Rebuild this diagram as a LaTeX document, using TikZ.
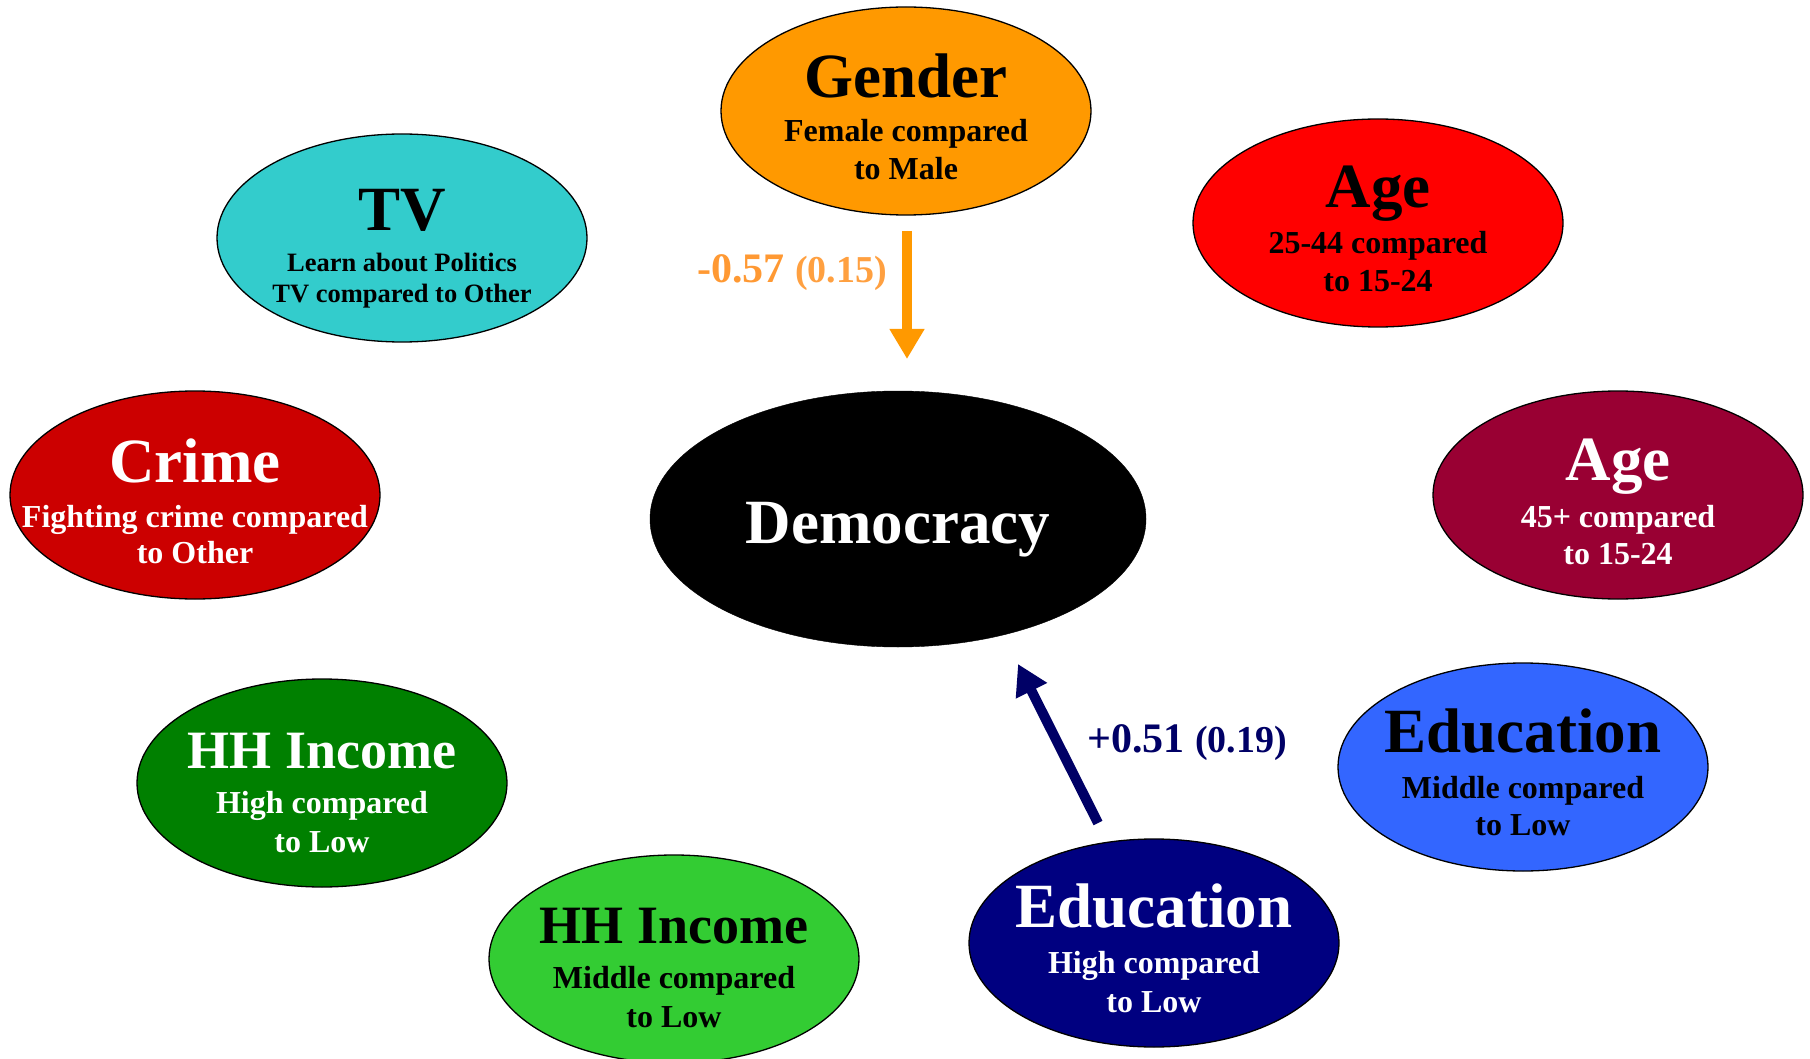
\documentclass[tikz,border=0pt]{standalone}
\usepackage{fontspec}
\setmainfont{Liberation Serif}
\usetikzlibrary{shapes.geometric,arrows.meta}
\definecolor{cGender}{HTML}{FF9900}
\definecolor{cTV}{HTML}{33CCCC}
\definecolor{cAgeA}{HTML}{FF0000}
\definecolor{cCrime}{HTML}{CC0000}
\definecolor{cAgeB}{HTML}{990033}
\definecolor{cEduM}{HTML}{3366FF}
\definecolor{cEduH}{HTML}{000080}
\definecolor{cHHH}{HTML}{008000}
\definecolor{cHHM}{HTML}{33CC33}
\definecolor{cLblO}{HTML}{FF9933}
\definecolor{cLblO2}{HTML}{FFA040}
\definecolor{cNavy}{HTML}{000066}
\tikzset{
  blob/.style={ellipse, draw=black, line width=1.3pt, minimum width=370pt, minimum height=208pt, inner sep=0pt},
  ttl/.style={anchor=base, inner sep=0pt, font=\fontsize{63}{63}\selectfont\bfseries},
  ttlsmall/.style={anchor=base, inner sep=0pt, font=\fontsize{54}{54}\selectfont\bfseries},
  sub/.style={anchor=base, inner sep=0pt, font=\fontsize{32}{32}\selectfont\bfseries},
  subtv/.style={anchor=base, inner sep=0pt, font=\fontsize{26.5}{26.5}\selectfont\bfseries},
  bigarrow/.style={line width=10pt, -{Triangle[length=30pt,width=33pt]}},
  coef/.style={anchor=base west, inner sep=0pt, font=\bfseries},
}
\begin{document}
\begin{tikzpicture}[x=1pt,y=-1pt]
\useasboundingbox[fill=white] (0,0) rectangle (1810,1059);

% Gender
\node[blob, fill=cGender] (gender) at (906,111) {};
\node[ttl] (genderT) at (906,98) {Gender};
\node[sub] (genderA) at (906,142) {Female compared};
\node[sub] (genderB) at (906,180) {to Male};

% TV
\node[blob, fill=cTV] (tv) at (402,238) {};
\node[ttl] (tvT) at (402,231) {TV};
\node[subtv] (tvA) at (402,272) {Learn about Politics};
\node[subtv] (tvB) at (402,303) {TV compared to Other};

% Age 25-44
\node[blob, fill=cAgeA] (ageA) at (1378,223) {};
\node[ttl] (ageAT) at (1378,208) {Age};
\node[sub] (ageAA) at (1378,254) {25-44 compared};
\node[sub] (ageAB) at (1378,292) {to 15-24};

% Crime
\node[blob, fill=cCrime] (crime) at (195,495) {};
\node[ttl, text=white] (crimeT) at (195,482) {Crime};
\node[sub, text=white] (crimeA) at (195,527) {Fighting crime compared};
\node[sub, text=white] (crimeB) at (195,563) {to Other};

% Age 45+
\node[blob, fill=cAgeB] (ageB) at (1618,495) {};
\node[ttl, text=white] (ageBT) at (1618,480) {Age};
\node[sub, text=white] (ageBA) at (1618,527) {45+ compared};
\node[sub, text=white] (ageBB) at (1618,564) {to 15-24};

% Democracy
\node[ellipse, draw=black, fill=black, minimum width=496pt, minimum height=256pt, inner sep=0pt] (dem) at (898,519) {};
\node[ttl, text=white] (demT) at (898,543) {Democracy};

% Education middle
\node[blob, fill=cEduM] (eduM) at (1523,767) {};
\node[ttl] (eduMT) at (1523,752) {Education};
\node[sub] (eduMA) at (1523,798) {Middle compared};
\node[sub] (eduMB) at (1523,835) {to Low};

% HH Income high
\node[blob, fill=cHHH] (hhH) at (322,783) {};
\node[ttlsmall, text=white] (hhHT) at (322,768) {HH Income};
\node[sub, text=white] (hhHA) at (322,813) {High compared};
\node[sub, text=white] (hhHB) at (322,852) {to Low};

% HH Income middle
\node[blob, fill=cHHM] (hhM) at (674,959) {};
\node[ttlsmall] (hhMT) at (674,943) {HH Income};
\node[sub] (hhMA) at (674,988) {Middle compared};
\node[sub] (hhMB) at (674,1027) {to Low};

% Education high
\node[blob, fill=cEduH] (eduH) at (1154,943) {};
\node[ttl, text=white] (eduHT) at (1154,927) {Education};
\node[sub, text=white] (eduHA) at (1154,973) {High compared};
\node[sub, text=white] (eduHB) at (1154,1012) {to Low};

% Arrows
\coordinate (gStart) at (907,231);
\coordinate (gEnd) at (907,359);
\draw[bigarrow, draw=cGender, fill=cGender] (gStart) -- (gEnd);
\coordinate (eStart) at (1098,823);
\coordinate (eEnd) at (1018,664);
\draw[bigarrow, draw=cNavy, fill=cNavy] (eStart) -- (eEnd);

% Coefficients
\node[coef, text=cLblO] (gCoef) at (697,283) {\fontsize{42}{42}\selectfont -0.57 {\color{cLblO2}\fontsize{38}{38}\selectfont (0.15)}};
\node[coef, text=cNavy] (eCoef) at (1087,752) {\fontsize{42}{42}\selectfont +0.51 \fontsize{38}{38}\selectfont (0.19)};
\end{tikzpicture}
\end{document}
